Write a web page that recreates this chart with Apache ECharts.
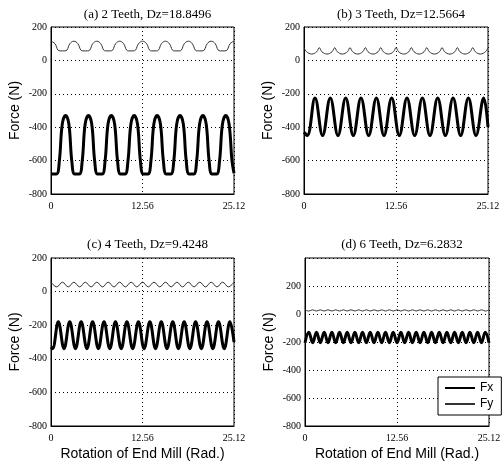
<!DOCTYPE html>
<html lang="en">
<head>
<meta charset="UTF-8">
<title>End mill forces</title>
<script src="https://cdn.jsdelivr.net/npm/echarts@6/dist/echarts.min.js"></script>
<style>
	html,body{margin:0;padding:0;background:#fff;}
	#main{width:504px;height:468px;}
</style>
</head>
<body>
<div id="main"></div>
<script type="text/javascript">
	// values, [rotation (rad), force (N)]
	var titles = ['(a) 2 Teeth, Dz=18.8496', '(b) 3 Teeth, Dz=12.5664', '(c) 4 Teeth, Dz=9.4248', '(d) 6 Teeth, Dz=6.2832'];
	var xTicks = [0, 12.56, 25.12];

	var aFx = [[0,-680],
		[0.75,-680],[1.15,-600],[1.55,-380],[2.00,-330],[2.45,-380],[2.85,-600],[3.25,-680],
		[3.89,-680],[4.29,-600],[4.69,-380],[5.14,-330],[5.59,-380],[5.99,-600],[6.39,-680],
		[7.03,-680],[7.43,-600],[7.83,-380],[8.28,-330],[8.73,-380],[9.13,-600],[9.53,-680],
		[10.17,-680],[10.57,-600],[10.97,-380],[11.42,-330],[11.87,-380],[12.27,-600],[12.67,-680],
		[13.32,-680],[13.72,-600],[14.12,-380],[14.57,-330],[15.02,-380],[15.42,-600],[15.82,-680],
		[16.46,-680],[16.86,-600],[17.26,-380],[17.71,-330],[18.16,-380],[18.56,-600],[18.96,-680],
		[19.60,-680],[20.00,-600],[20.40,-380],[20.85,-330],[21.30,-380],[21.70,-600],[22.10,-680],
		[22.74,-680],[23.14,-600],[23.54,-380],[23.99,-330],[24.44,-380],[24.84,-600],[25.12,-675]];
	var aFy = [[0,115],[0.55,100],[0.95,62],[1.25,57],[1.89,57],[2.19,62],[2.59,100],
		[3.14,115],[3.69,100],[4.09,62],[4.39,57],[5.03,57],[5.33,62],[5.73,100],
		[6.28,115],[6.83,100],[7.23,62],[7.53,57],[8.17,57],[8.47,62],[8.87,100],
		[9.42,115],[9.97,100],[10.37,62],[10.67,57],[11.31,57],[11.61,62],[12.01,100],
		[12.57,115],[13.12,100],[13.52,62],[13.82,57],[14.46,57],[14.76,62],[15.16,100],
		[15.71,115],[16.26,100],[16.66,62],[16.96,57],[17.60,57],[17.90,62],[18.30,100],
		[18.85,115],[19.40,100],[19.80,62],[20.10,57],[20.74,57],[21.04,62],[21.44,100],
		[21.99,115],[22.54,100],[22.94,62],[23.24,57],[23.88,57],[24.18,62],[24.58,100],
		[25.12,115]];

	var bFx = [[0,-430],[0.45,-450],[1.50,-225],[2.54,-450],[3.59,-225],[4.64,-450],[5.69,-225],
		[6.73,-450],[7.78,-225],[8.83,-450],[9.88,-225],[10.92,-450],[11.97,-225],[13.01,-450],
		[14.06,-225],[15.11,-450],[16.16,-225],[17.20,-450],[18.25,-225],[19.30,-450],[20.35,-225],
		[21.39,-450],[22.44,-225],[23.48,-450],[24.53,-225],[25.12,-400]];
	var bFy = [[0,76],[0.35,52],[1.05,38],[1.74,52],
		[2.09,76],[2.44,52],[3.14,38],[3.83,52],
		[4.19,76],[4.54,52],[5.24,38],[5.93,52],
		[6.28,76],[6.63,52],[7.33,38],[8.02,52],
		[8.38,76],[8.73,52],[9.43,38],[10.12,52],
		[10.47,76],[10.82,52],[11.52,38],[12.21,52],
		[12.57,76],[12.92,52],[13.62,38],[14.31,52],
		[14.66,76],[15.01,52],[15.71,38],[16.40,52],
		[16.76,76],[17.11,52],[17.81,38],[18.50,52],
		[18.85,76],[19.20,52],[19.90,38],[20.59,52],
		[20.94,76],[21.29,52],[21.99,38],[22.68,52],
		[23.04,76],[23.39,52],[24.09,38],[24.78,52],
		[25.12,76]];

	var cFx = [[0,-330],[0.21,-340],[1.00,-180],[1.79,-340],[2.57,-180],[3.36,-340],[4.14,-180],
		[4.93,-340],[5.71,-180],[6.50,-340],[7.28,-180],[8.07,-340],[8.85,-180],[9.64,-340],
		[10.42,-180],[11.21,-340],[12.00,-180],[12.78,-340],[13.57,-180],[14.35,-340],[15.14,-180],
		[15.92,-340],[16.71,-180],[17.49,-340],[18.28,-180],[19.06,-340],[19.85,-180],[20.64,-340],
		[21.42,-180],[22.21,-340],[22.99,-180],[23.78,-340],[24.56,-180],[25.12,-300]];
	var cFy = [[0,56],[0.79,28],[1.57,56],[2.36,28],[3.14,56],[3.93,28],[4.71,56],[5.50,28],
		[6.28,56],[7.07,28],[7.85,56],[8.64,28],[9.42,56],[10.21,28],[11.00,56],[11.78,28],
		[12.57,56],[13.35,28],[14.14,56],[14.92,28],[15.71,56],[16.49,28],[17.28,56],[18.06,28],
		[18.85,56],[19.63,28],[20.42,56],[21.21,28],[21.99,56],[22.78,28],[23.56,56],[24.35,28],
		[25.12,56]];

	var dFx = [[0,-205],[0.52,-130],[1.05,-205],[1.57,-130],[2.09,-205],[2.62,-130],[3.14,-205],
		[3.67,-130],[4.19,-205],[4.71,-130],[5.24,-205],[5.76,-130],[6.28,-205],[6.81,-130],
		[7.33,-205],[7.85,-130],[8.38,-205],[8.90,-130],[9.42,-205],[9.95,-130],[10.47,-205],
		[10.99,-130],[11.52,-205],[12.04,-130],[12.57,-205],[13.09,-130],[13.61,-205],[14.14,-130],
		[14.66,-205],[15.18,-130],[15.71,-205],[16.23,-130],[16.76,-205],[17.28,-130],[17.80,-205],
		[18.33,-130],[18.85,-205],[19.37,-130],[19.90,-205],[20.42,-130],[20.94,-205],[21.47,-130],
		[21.99,-205],[22.51,-130],[23.04,-205],[23.56,-130],[24.09,-205],[24.61,-130],[25.12,-205]];
	var dFy = [[0,30],[0.52,21],[1.05,30],[1.57,21],[2.09,30],[2.62,21],[3.14,30],
		[3.67,21],[4.19,30],[4.71,21],[5.24,30],[5.76,21],[6.28,30],[6.81,21],
		[7.33,30],[7.85,21],[8.38,30],[8.90,21],[9.42,30],[9.95,21],[10.47,30],
		[10.99,21],[11.52,30],[12.04,21],[12.57,30],[13.09,21],[13.61,30],[14.14,21],
		[14.66,30],[15.18,21],[15.71,30],[16.23,21],[16.76,30],[17.28,21],[17.80,30],
		[18.33,21],[18.85,30],[19.37,21],[19.90,30],[20.42,21],[20.94,30],[21.47,21],
		[21.99,30],[22.51,21],[23.04,30],[23.56,21],[24.09,30],[24.61,21],[25.12,30]];

	var yMax = [200, 200, 200, 400];
	var fx = [aFx, bFx, cFx, dFx];
	var fy = [aFy, bFy, cFy, dFy];

	var boxes = [
		{left:51, top:27, width:183, height:167},
		{left:304, top:27, width:184, height:167},
		{left:51, top:258, width:183, height:168},
		{left:305, top:258, width:184, height:168}
	];

	var serif = 'Liberation Serif';
	var sans = 'Liberation Sans';
	var dots = {color:'#000', width:1, type:[1,3]};

	var option = {
		backgroundColor:'#fff',
		animation:false,
		title:[],
		grid:[],
		xAxis:[],
		yAxis:[],
		series:[],
		legend:{
			data:['Fx','Fy'],
			orient:'vertical',
			left:438,
			top:377,
			padding:[5,8,5,6],
			itemGap:4,
			itemWidth:30,
			itemHeight:14,
			selectedMode:false,
			backgroundColor:'#fff',
			borderColor:'#000',
			borderWidth:1,
			borderRadius:0,
			itemStyle:{opacity:0},
			textStyle:{fontFamily:sans, fontSize:12, color:'#000'}
		}
	};

	boxes.forEach(function(b, i){
		option.title.push({
			text:titles[i],
			left:b.left + b.width / 2,
			top: i < 2 ? 3 : 233,
			textAlign:'center',
			textStyle:{fontFamily:serif, fontSize:13, fontWeight:'normal', color:'#000'}
		});
		option.grid.push({
			left:b.left, top:b.top, width:b.width, height:b.height,
			show:true, borderColor:'#000', borderWidth:1, backgroundColor:'#fff',
			outerBoundsMode:'none'
		});
		option.xAxis.push({
			gridIndex:i,
			type:'value',
			min:xTicks[0], max:xTicks[2], interval:xTicks[1],
			name: i >= 2 ? 'Rotation of End Mill (Rad.)' : '',
			nameLocation:'middle',
			nameGap:21,
			nameTextStyle:{fontFamily:sans, fontSize:14, color:'#000'},
			axisLine:{show:true, onZero:false, lineStyle:{color:'#000'}},
			axisTick:{show:false},
			axisLabel:{fontFamily:serif, fontSize:10, color:'#000', margin:7},
			splitLine:{show:true, lineStyle:dots}
		});
		option.yAxis.push({
			gridIndex:i,
			type:'value',
			min:-800, max:yMax[i], interval:200,
			name:'Force (N)',
			nameLocation:'middle',
			nameGap:29,
			nameTextStyle:{fontFamily:sans, fontSize:14, color:'#000'},
			axisLine:{show:true, onZero:false, lineStyle:{color:'#000'}},
			axisTick:{show:false},
			axisLabel:{fontFamily:serif, fontSize:10, color:'#000', margin:4,
				formatter:function(v){ return v > 200 ? '' : v; }},
			splitLine:{show:true, lineStyle:dots}
		});
		option.series.push({
			name:'Fx', type:'line', xAxisIndex:i, yAxisIndex:i,
			data:fx[i], symbol:'none', smooth:0.4,
			lineStyle:{color:'#000', width:3},
			itemStyle:{color:'#000'}
		});
		option.series.push({
			name:'Fy', type:'line', xAxisIndex:i, yAxisIndex:i,
			data:fy[i], symbol:'none', smooth:0.4,
			lineStyle:{color:'#333', width:1},
			itemStyle:{color:'#333'}
		});
	});

	var myChart = echarts.init(document.getElementById('main'));
	myChart.setOption(option);
</script>
</body>
</html>
